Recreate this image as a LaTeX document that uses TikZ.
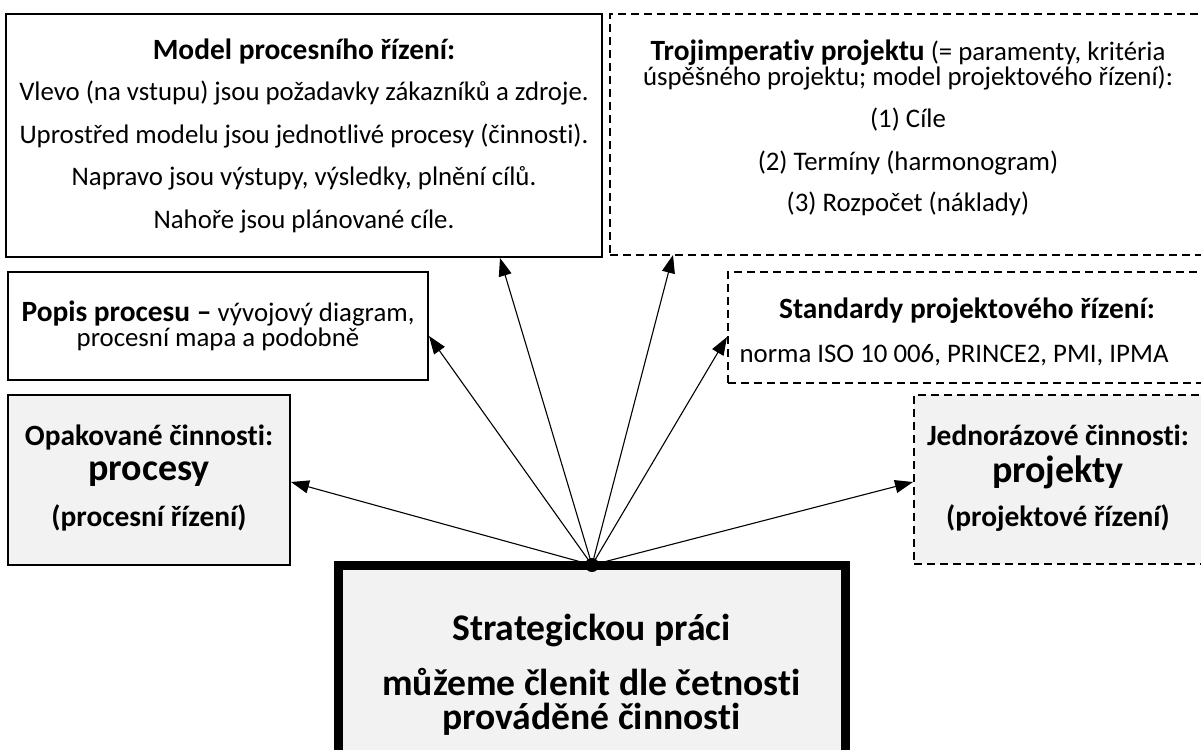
\documentclass[tikz,border=0pt]{standalone}
\usepackage{fontspec}
\setmainfont{Carlito}[Ligatures={NoCommon}]
\usetikzlibrary{arrows.meta}
\definecolor{boxgrey}{HTML}{F2F2F2}
\tikzset{
  frame/.style={draw=black, line width=1.7pt, fill=white, inner sep=0pt},
  dframe/.style={draw=black, line width=1.5pt, dash pattern=on 8pt off 5pt, fill=white, inner sep=0pt},
  txt/.style={anchor=base, inner sep=0pt, font=\fontsize{26.8}{32}\selectfont},
  btxt/.style={anchor=base, inner sep=0pt, font=\fontsize{29.4}{35}\selectfont\bfseries},
  bigtxt/.style={anchor=base, inner sep=0pt, font=\fontsize{38}{44}\selectfont\bfseries},
  maintxt/.style={anchor=base, inner sep=0pt, font=\fontsize{37.6}{44}\selectfont\bfseries},
  arr/.style={-{Triangle[length=18pt,width=13pt]}, line width=1.1pt}
}
\begin{document}
\begin{tikzpicture}[x=1pt, y=-1pt]
  \clip (0,0) rectangle (1201,749);
  \fill[white] (0,0) rectangle (1201,749);

  % process management model
  \node[frame, minimum width=596pt, minimum height=243pt] (model) at (304,135.5) {};
  \node[btxt] (m0) at (304,60) {Model procesního řízení:};
  \node[txt] (m1) at (304,101) {Vlevo (na vstupu) jsou požadavky zákazníků a zdroje.};
  \node[txt] (m2) at (304,143) {Uprostřed modelu jsou jednotlivé procesy (činnosti).};
  \node[txt] (m3) at (304,185) {Napravo jsou výstupy, výsledky, plnění cílů.};
  \node[txt] (m4) at (304,228) {Nahoře jsou plánované cíle.};

  % project triple constraint
  \node[dframe, minimum width=596pt, minimum height=241pt] (troj) at (908,134.5) {};
  \node[txt] (t0) at (908,61) {{\fontsize{29.4}{35}\selectfont\bfseries Trojimperativ projektu} (= paramenty, kritéria};
  \node[txt] (t1) at (908,86) {úspěšného projektu; model projektového řízení):};
  \node[txt] (t2) at (908,128) {(1) Cíle};
  \node[txt] (t3) at (908,170) {(2) Termíny (harmonogram)};
  \node[txt] (t4) at (908,211) {(3) Rozpočet (náklady)};

  % process description
  \node[frame, minimum width=420pt, minimum height=108pt] (popis) at (218,326) {};
  \node[txt] (p0) at (218,321) {{\fontsize{29.4}{35}\selectfont\bfseries Popis procesu –} vývojový diagram,};
  \node[txt] (p1) at (218,346) {procesní mapa a podobně};

  % project management standards
  \node[dframe, minimum width=478pt, minimum height=111pt] (std) at (967,327.5) {};
  \node[btxt] (s0) at (967,318) {Standardy projektového řízení:};
  \node[txt] (s1) at (954,362) {norma ISO 10 006, PRINCE2, PMI, IPMA};

  % repeated activities
  \node[frame, fill=boxgrey, minimum width=282pt, minimum height=170pt] (opak) at (149,480) {};
  \node[btxt] (o0) at (149,445) {Opakované činnosti:};
  \node[bigtxt] (o1) at (149,480) {procesy};
  \node[btxt] (o2) at (149,526) {(procesní řízení)};

  % one-off activities
  \node[dframe, fill=boxgrey, minimum width=292pt, minimum height=169pt] (jedn) at (1060,479.5) {};
  \node[btxt] (j0) at (1058,445) {Jednorázové činnosti:};
  \node[bigtxt] (j1) at (1058,482) {projekty};
  \node[btxt] (j2) at (1058,526) {(projektové řízení)};

  % arrow tips on the box edges
  \coordinate (aModel) at (500,258);
  \coordinate (aTroj) at (673,255);
  \coordinate (aPopis) at (429,336);
  \coordinate (aStd) at (727,337);
  \coordinate (aOpak) at (291,482);
  \coordinate (aJedn) at (913,482);

  % central statement
  \node[draw=black, line width=9pt, fill=boxgrey, minimum width=507pt, minimum height=235pt, inner sep=0pt] (main) at (591.5,682.5) {};
  \node[maintxt] (c0) at (591.5,640) {Strategickou práci};
  \node[maintxt] (c1) at (591.5,695) {můžeme členit dle četnosti};
  \node[maintxt] (c2) at (591.5,729) {prováděné činnosti};

  \coordinate (hub) at (592,565);
  \foreach \t in {aModel,aTroj,aPopis,aStd,aOpak,aJedn}
    \draw[arr] (hub) -- (\t);
  \node[circle, fill=black, minimum size=14pt, inner sep=0pt] (dot) at (hub) {};
\end{tikzpicture}
\end{document}
